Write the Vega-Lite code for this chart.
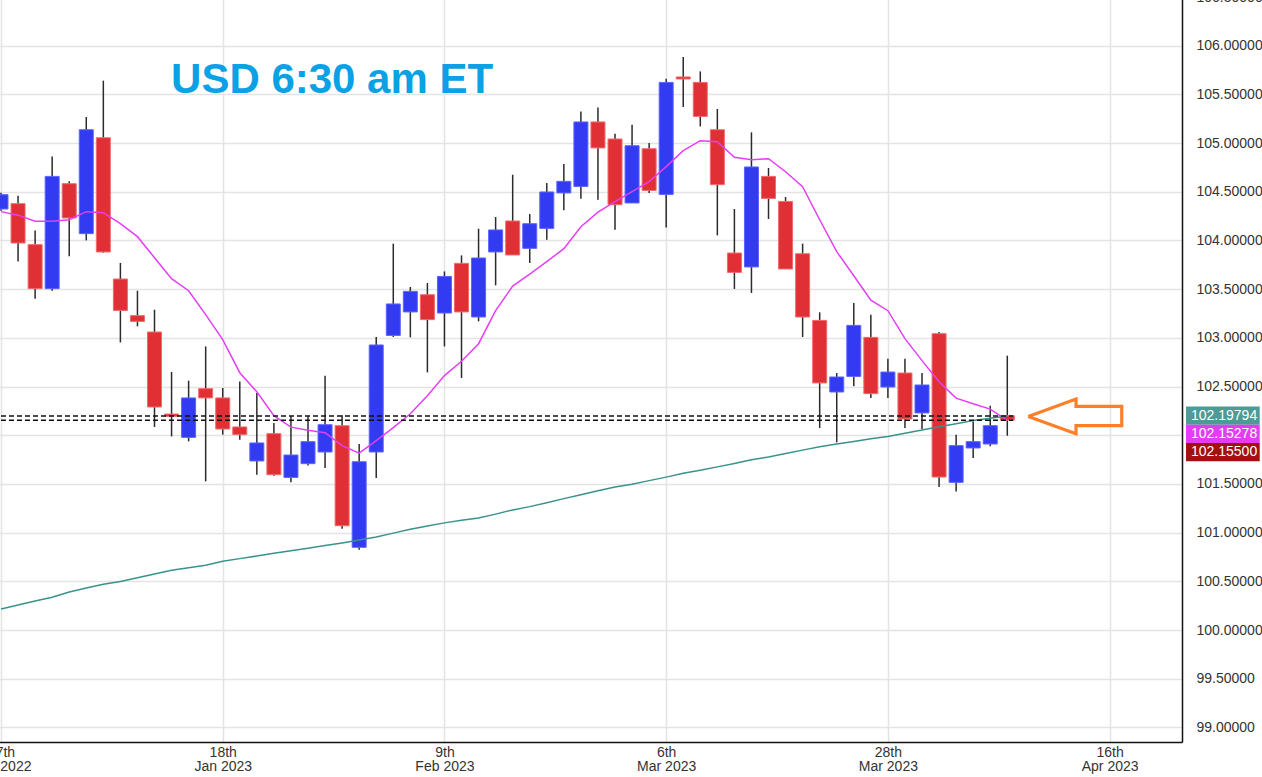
{
  "$schema": "https://vega.github.io/schema/vega-lite/v6.json",
  "width": 1186,
  "height": 745,
  "autosize": {"type": "none"},
  "padding": {"left": -4, "top": -3, "right": 80, "bottom": 35},
  "background": "white",
  "config": {
    "view": {"stroke": null},
    "font": "Liberation Sans",
    "axis": {"labelFont": "Liberation Sans", "labelFontSize": 14, "labelColor": "#333333", "gridColor": "#e4e4e4", "gridWidth": 1.5, "domainColor": "#111111", "domainWidth": 1.5, "ticks": false, "tickSize": 0, "title": null}
  },
  "datasets": {
    "candles": [
      {"i":0,"o":104.323,"h":104.491,"l":104.306,"c":104.470,"ma":104.296,"ma2":100.216},
      {"i":1,"o":104.378,"h":104.460,"l":103.785,"c":103.974,"ma":104.260,"ma2":100.257},
      {"i":2,"o":103.957,"h":104.103,"l":103.402,"c":103.505,"ma":104.198,"ma2":100.297},
      {"i":3,"o":103.505,"h":104.863,"l":103.484,"c":104.658,"ma":104.198,"ma2":100.337},
      {"i":4,"o":104.583,"h":104.607,"l":103.837,"c":104.231,"ma":104.213,"ma2":100.391},
      {"i":5,"o":104.070,"h":105.268,"l":104.001,"c":105.137,"ma":104.296,"ma2":100.431},
      {"i":6,"o":105.055,"h":105.641,"l":103.875,"c":103.882,"ma":104.285,"ma2":100.470},
      {"i":7,"o":103.604,"h":103.769,"l":102.953,"c":103.282,"ma":104.172,"ma2":100.498},
      {"i":8,"o":103.228,"h":103.484,"l":103.118,"c":103.169,"ma":104.039,"ma2":100.537},
      {"i":9,"o":103.060,"h":103.289,"l":102.085,"c":102.290,"ma":103.823,"ma2":100.576},
      {"i":10,"o":102.218,"h":102.650,"l":101.988,"c":102.194,"ma":103.608,"ma2":100.613},
      {"i":11,"o":101.978,"h":102.560,"l":101.937,"c":102.383,"ma":103.484,"ma2":100.639},
      {"i":12,"o":102.478,"h":102.912,"l":101.526,"c":102.383,"ma":103.238,"ma2":100.666},
      {"i":13,"o":102.383,"h":102.485,"l":102.006,"c":102.064,"ma":102.981,"ma2":100.705},
      {"i":14,"o":102.085,"h":102.553,"l":101.954,"c":102.006,"ma":102.642,"ma2":100.733},
      {"i":15,"o":101.736,"h":102.434,"l":101.595,"c":101.921,"ma":102.447,"ma2":100.760},
      {"i":16,"o":102.016,"h":102.126,"l":101.585,"c":101.595,"ma":102.201,"ma2":100.787},
      {"i":17,"o":101.567,"h":102.194,"l":101.516,"c":101.797,"ma":102.083,"ma2":100.814},
      {"i":18,"o":101.708,"h":102.194,"l":101.690,"c":101.934,"ma":102.052,"ma2":100.840},
      {"i":19,"o":101.828,"h":102.612,"l":101.664,"c":102.108,"ma":102.026,"ma2":100.867},
      {"i":20,"o":102.098,"h":102.204,"l":101.041,"c":101.071,"ma":101.893,"ma2":100.894},
      {"i":21,"o":100.849,"h":101.910,"l":100.825,"c":101.728,"ma":101.816,"ma2":100.924},
      {"i":22,"o":101.828,"h":103.009,"l":101.561,"c":102.927,"ma":101.944,"ma2":100.956},
      {"i":23,"o":103.025,"h":103.967,"l":103.009,"c":103.348,"ma":102.078,"ma2":100.995},
      {"i":24,"o":103.266,"h":103.522,"l":103.005,"c":103.477,"ma":102.221,"ma2":101.034},
      {"i":25,"o":103.443,"h":103.563,"l":102.645,"c":103.187,"ma":102.406,"ma2":101.067},
      {"i":26,"o":103.255,"h":103.682,"l":102.912,"c":103.631,"ma":102.612,"ma2":101.100},
      {"i":27,"o":103.765,"h":103.847,"l":102.588,"c":103.266,"ma":102.760,"ma2":101.126},
      {"i":28,"o":103.214,"h":104.121,"l":103.169,"c":103.820,"ma":102.940,"ma2":101.151},
      {"i":29,"o":103.882,"h":104.241,"l":103.539,"c":104.108,"ma":103.279,"ma2":101.190},
      {"i":30,"o":104.200,"h":104.675,"l":103.851,"c":103.851,"ma":103.531,"ma2":101.233},
      {"i":31,"o":103.919,"h":104.272,"l":103.769,"c":104.172,"ma":103.654,"ma2":101.267},
      {"i":32,"o":104.124,"h":104.590,"l":104.008,"c":104.498,"ma":103.782,"ma2":101.307},
      {"i":33,"o":104.488,"h":104.785,"l":104.309,"c":104.607,"ma":103.916,"ma2":101.349},
      {"i":34,"o":104.555,"h":105.325,"l":104.429,"c":105.217,"ma":104.141,"ma2":101.389},
      {"i":35,"o":105.217,"h":105.366,"l":104.419,"c":104.950,"ma":104.290,"ma2":101.429},
      {"i":36,"o":105.042,"h":105.096,"l":104.111,"c":104.367,"ma":104.398,"ma2":101.468},
      {"i":37,"o":104.385,"h":105.189,"l":104.385,"c":104.973,"ma":104.501,"ma2":101.497},
      {"i":38,"o":104.942,"h":105.001,"l":104.488,"c":104.514,"ma":104.604,"ma2":101.534},
      {"i":39,"o":104.473,"h":105.661,"l":104.134,"c":105.623,"ma":104.758,"ma2":101.570},
      {"i":40,"o":105.679,"h":105.884,"l":105.371,"c":105.658,"ma":104.922,"ma2":101.609},
      {"i":41,"o":105.623,"h":105.736,"l":105.171,"c":105.274,"ma":105.025,"ma2":101.641},
      {"i":42,"o":105.137,"h":105.350,"l":104.052,"c":104.573,"ma":105.014,"ma2":101.675},
      {"i":43,"o":103.871,"h":104.323,"l":103.502,"c":103.672,"ma":104.855,"ma2":101.710},
      {"i":44,"o":103.728,"h":105.110,"l":103.461,"c":104.755,"ma":104.830,"ma2":101.748},
      {"i":45,"o":104.658,"h":104.744,"l":104.221,"c":104.432,"ma":104.840,"ma2":101.777},
      {"i":46,"o":104.401,"h":104.446,"l":103.707,"c":103.707,"ma":104.706,"ma2":101.812},
      {"i":47,"o":103.864,"h":103.967,"l":103.009,"c":103.214,"ma":104.552,"ma2":101.847},
      {"i":48,"o":103.179,"h":103.262,"l":102.075,"c":102.537,"ma":104.213,"ma2":101.881},
      {"i":49,"o":102.444,"h":102.639,"l":101.927,"c":102.598,"ma":103.885,"ma2":101.909},
      {"i":50,"o":102.604,"h":103.358,"l":102.502,"c":103.128,"ma":103.638,"ma2":101.936},
      {"i":51,"o":103.005,"h":103.238,"l":102.383,"c":102.427,"ma":103.387,"ma2":101.964},
      {"i":52,"o":102.495,"h":102.786,"l":102.383,"c":102.649,"ma":103.279,"ma2":101.988},
      {"i":53,"o":102.639,"h":102.786,"l":102.075,"c":102.167,"ma":102.992,"ma2":102.020},
      {"i":54,"o":102.229,"h":102.639,"l":102.064,"c":102.516,"ma":102.766,"ma2":102.053},
      {"i":55,"o":103.043,"h":103.060,"l":101.469,"c":101.571,"ma":102.550,"ma2":102.086},
      {"i":56,"o":101.516,"h":102.006,"l":101.423,"c":101.893,"ma":102.381,"ma2":102.119},
      {"i":57,"o":101.869,"h":102.142,"l":101.767,"c":101.934,"ma":102.324,"ma2":102.152},
      {"i":58,"o":101.910,"h":102.304,"l":101.886,"c":102.098,"ma":102.268,"ma2":102.174},
      {"i":59,"o":102.201,"h":102.817,"l":101.995,"c":102.155,"ma":102.15278,"ma2":102.19794}
    ],
    "levels": [
      {"value": 102.19794},
      {"value": 102.155}
    ],
    "arrow": [
      {"k":1,"i":60.23,"v":102.1936},
      {"k":2,"i":63.03,"v":102.3723},
      {"k":3,"i":63.03,"v":102.2963},
      {"k":4,"i":65.71,"v":102.2963},
      {"k":5,"i":65.71,"v":102.0981},
      {"k":6,"i":63.03,"v":102.0981},
      {"k":7,"i":63.03,"v":102.0160},
      {"k":8,"i":60.23,"v":102.1936}
    ]
  },
  "layer": [
    {
      "data": {"name": "candles"},
      "mark": {"type": "rule", "color": "#2b2b2b", "strokeWidth": 1.5},
      "encoding": {
        "x": {"field": "i", "type": "quantitative",
          "scale": {"domain": [0, 68.95], "nice": false, "zero": false},
          "axis": {"orient": "bottom", "values": [0, 13, 26, 39, 52, 65], "grid": true, "labelPadding": 3, "labelBaseline": "top", "labelLineHeight": 14, "labelFlush": false, "labelOverlap": false,
            "labelExpr": "datum.value == 0 ? ['27th','Dec 2022'] : datum.value == 13 ? ['18th','Jan 2023'] : datum.value == 26 ? ['9th','Feb 2023'] : datum.value == 39 ? ['6th','Mar 2023'] : datum.value == 52 ? ['28th','Mar 2023'] : ['16th','Apr 2023']"}},
        "y": {"field": "l", "type": "quantitative",
          "scale": {"domain": [98.85, 106.5], "nice": false, "zero": false},
          "axis": {"orient": "right", "values": [99, 99.5, 100, 100.5, 101, 101.5, 102, 102.5, 103, 103.5, 104, 104.5, 105, 105.5, 106, 106.5], "grid": true, "labelPadding": 14, "labelFlush": false, "labelOverlap": false,
            "labelExpr": "datum.value == 102 ? '' : format(datum.value, '.5f')"}},
        "y2": {"field": "h"}
      }
    },
    {
      "data": {"name": "candles"},
      "mark": {"type": "bar", "size": 14, "strokeWidth": 1},
      "encoding": {
        "x": {"field": "i", "type": "quantitative"},
        "y": {"field": "o", "type": "quantitative"},
        "y2": {"field": "c"},
        "color": {"condition": {"test": "datum.c > datum.o", "value": "#323af2"}, "value": "#e03036"},
        "stroke": {"condition": {"test": "datum.c > datum.o", "value": "#5c64ff"}, "value": "#f06a6a"}
      }
    },
    {
      "data": {"name": "candles"},
      "mark": {"type": "line", "color": "#e53ef5", "strokeWidth": 1.5},
      "encoding": {
        "x": {"field": "i", "type": "quantitative"},
        "y": {"field": "ma", "type": "quantitative"}
      }
    },
    {
      "data": {"name": "candles"},
      "mark": {"type": "line", "color": "#3a928c", "strokeWidth": 1.5},
      "encoding": {
        "x": {"field": "i", "type": "quantitative"},
        "y": {"field": "ma2", "type": "quantitative"}
      }
    },
    {
      "data": {"name": "levels"},
      "mark": {"type": "rule", "color": "#111111", "strokeWidth": 1.5, "strokeDash": [5, 3]},
      "encoding": {
        "x": {"datum": 0, "type": "quantitative"},
        "x2": {"datum": 59.34},
        "y": {"field": "value", "type": "quantitative"}
      }
    },
    {
      "data": {"name": "arrow"},
      "mark": {"type": "line", "color": "#ff7f27", "strokeWidth": 3.2, "strokeJoin": "miter"},
      "encoding": {
        "x": {"field": "i", "type": "quantitative"},
        "y": {"field": "v", "type": "quantitative"},
        "order": {"field": "k"}
      }
    },
    {
      "data": {"values": [{"t": "USD 6:30 am ET"}]},
      "mark": {"type": "text", "align": "left", "baseline": "alphabetic", "fontSize": 42, "fontWeight": "bold", "font": "Liberation Sans", "color": "#0aa1e5"},
      "encoding": {
        "x": {"datum": 9.97, "type": "quantitative"},
        "y": {"datum": 105.514, "type": "quantitative"},
        "text": {"field": "t"}
      }
    },
    {
      "data": {"values": [{"t": "102.19794"}]},
      "layer": [
        {"mark": {"type": "rect", "color": "#4c9b96"},
         "encoding": {"x": {"datum": 69.48, "type": "quantitative"}, "x2": {"datum": 73.8},
                      "y": {"datum": 102.2963, "type": "quantitative"}, "y2": {"datum": 102.1084}}},
        {"mark": {"type": "text", "align": "left", "baseline": "middle", "fontSize": 14, "color": "white"},
         "encoding": {"x": {"datum": 69.77, "type": "quantitative"},
                      "y": {"datum": 102.201, "type": "quantitative"}, "text": {"field": "t"}}}
      ]
    },
    {
      "data": {"values": [{"t": "102.15278"}]},
      "layer": [
        {"mark": {"type": "rect", "color": "#e33cf5"},
         "encoding": {"x": {"datum": 69.48, "type": "quantitative"}, "x2": {"datum": 73.8},
                      "y": {"datum": 102.1084, "type": "quantitative"}, "y2": {"datum": 101.9205}}},
        {"mark": {"type": "text", "align": "left", "baseline": "middle", "fontSize": 14, "color": "white"},
         "encoding": {"x": {"datum": 69.77, "type": "quantitative"},
                      "y": {"datum": 102.0162, "type": "quantitative"}, "text": {"field": "t"}}}
      ]
    },
    {
      "data": {"values": [{"t": "102.15500"}]},
      "layer": [
        {"mark": {"type": "rect", "color": "#a31010"},
         "encoding": {"x": {"datum": 69.48, "type": "quantitative"}, "x2": {"datum": 73.8},
                      "y": {"datum": 101.9205, "type": "quantitative"}, "y2": {"datum": 101.7316}}},
        {"mark": {"type": "text", "align": "left", "baseline": "middle", "fontSize": 14, "color": "white"},
         "encoding": {"x": {"datum": 69.77, "type": "quantitative"},
                      "y": {"datum": 101.8262, "type": "quantitative"}, "text": {"field": "t"}}}
      ]
    }
  ]
}
